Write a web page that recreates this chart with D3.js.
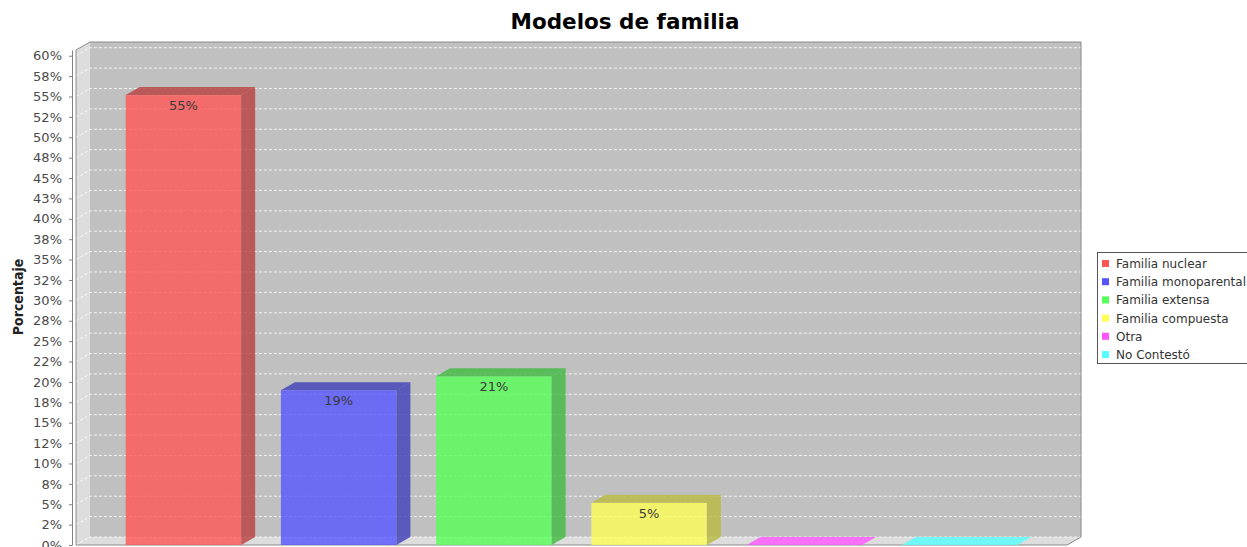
<!DOCTYPE html>
<html>
<head>
<meta charset="utf-8">
<script src="https://cdn.jsdelivr.net/npm/d3@7"></script>
<style>
  html, body { margin: 0; padding: 0; background: #fff; }
  svg { display: block; }
</style>
</head>
<body>
<svg id="chart"></svg>
<script>
const categories = ['Familia nuclear', 'Familia monoparental', 'Familia extensa', 'Familia compuesta', 'Otra', 'No Contestó'];
const values = [55.17, 18.97, 20.69, 5.17, 0, 0];
const barLabels = ['55%', '19%', '21%', '5%', '', ''];
const seriesColors = ['#ff5555', '#5555ff', '#55ff55', '#ffff55', '#ff55ff', '#55ffff'];
const tickValues = [0, 2.5, 5, 7.5, 10, 12.5, 15, 17.5, 20, 22.5, 25, 27.5, 30, 32.5, 35, 37.5, 40, 42.5, 45, 47.5, 50, 52.5, 55, 57.5, 60];
const tickLabels = ['0%', '2%', '5%', '8%', '10%', '12%', '15%', '18%', '20%', '22%', '25%', '28%', '30%', '32%', '35%', '38%', '40%', '43%', '45%', '48%', '50%', '52%', '55%', '58%', '60%'];

const width = 1247;
const height = 547;
const margin = { top: 50, right: 180, bottom: 2, left: 76 };
const dx = 14, dy = 8; // 3D depth offset

const svg = d3.select('#chart')
  .attr('width', width)
  .attr('height', height)
  .attr('viewBox', `0 0 ${width} ${height}`);

const pLeft = margin.left;
const pRight = width - margin.right;
const pTop = margin.top;
const pBase = height - margin.bottom;

const x = d3.scaleBand()
  .domain(categories)
  .range([pLeft, pRight])
  .paddingInner(0.256)
  .paddingOuter(0.32);

const y = d3.scaleLinear()
  .domain([0, 60.7])
  .range([pBase, pTop]);

const g = svg.append('g');

// Walls: left wall + floor light, back wall grey
g.append('polygon')
  .attr('points', [[pLeft, pTop], [pLeft + dx, pTop - dy], [pLeft + dx, pBase - dy], [pLeft, pBase]].join(' '))
  .attr('fill', '#dddddd');
g.append('polygon')
  .attr('points', [[pLeft, pBase], [pLeft + dx, pBase - dy], [pRight + dx, pBase - dy], [pRight, pBase]].join(' '))
  .attr('fill', '#dddddd');
g.append('rect')
  .attr('x', pLeft + dx)
  .attr('y', pTop - dy)
  .attr('width', pRight - pLeft)
  .attr('height', pBase - pTop)
  .attr('fill', '#c0c0c0');

// Gridlines across the left wall and back wall
g.selectAll('.grid')
  .data(tickValues)
  .join('polyline')
  .attr('class', 'grid')
  .attr('points', d => [[pLeft, y(d)], [pLeft + dx, y(d) - dy], [pRight + dx, y(d) - dy]].join(' '))
  .attr('fill', 'none')
  .attr('stroke', '#ffffff')
  .attr('stroke-opacity', 0.8)
  .attr('stroke-width', 1)
  .attr('stroke-dasharray', '3,2');

// Wall outline
g.append('polyline')
  .attr('points', [[pLeft, pBase], [pLeft, pTop], [pLeft + dx, pTop - dy], [pRight + dx, pTop - dy], [pRight + dx, pBase - dy], [pRight, pBase], [pLeft, pBase]].join(' '))
  .attr('fill', 'none')
  .attr('stroke', '#8a8a8a')
  .attr('stroke-width', 1);

// Bars
const bars = g.selectAll('.bar')
  .data(values)
  .join('g')
  .attr('class', 'bar');

bars.each(function (d, i) {
  const b = d3.select(this);
  const x0 = x(categories[i]);
  const x1 = x0 + x.bandwidth();
  const yt = y(d);
  const col = seriesColors[i];
  const dark = d3.color(col).darker(0.9).formatHex();

  if (d > 0) {
    b.append('rect')
      .attr('x', x0)
      .attr('y', yt)
      .attr('width', x1 - x0)
      .attr('height', pBase - yt)
      .attr('fill', col)
      .attr('fill-opacity', 0.8);
    b.append('polygon')
      .attr('points', [[x1, yt], [x1 + dx, yt - dy], [x1 + dx, pBase - dy], [x1, pBase]].join(' '))
      .attr('fill', dark)
      .attr('fill-opacity', 0.8);
  }
  b.append('polygon')
    .attr('points', [[x0, yt], [x0 + dx, yt - dy], [x1 + dx, yt - dy], [x1, yt]].join(' '))
    .attr('fill', d > 0 ? dark : col)
    .attr('fill-opacity', 0.8);

  if (barLabels[i]) {
    b.append('text')
      .attr('x', (x0 + x1) / 2)
      .attr('y', yt + 15)
      .attr('text-anchor', 'middle')
      .attr('font-family', 'DejaVu Sans, sans-serif')
      .attr('font-size', 13)
      .attr('fill', '#3a3a3a')
      .text(barLabels[i]);
  }
});

// Y axis
const axis = g.append('g')
  .attr('transform', `translate(${pLeft - 4},0)`)
  .call(d3.axisLeft(y)
    .tickValues(tickValues)
    .tickFormat((d, i) => tickLabels[i])
    .tickSizeInner(3)
    .tickSizeOuter(0)
    .tickPadding(7));
axis.select('.domain').attr('stroke', '#808080');
axis.selectAll('.tick line').attr('stroke', '#808080');
axis.selectAll('text')
  .attr('font-family', 'DejaVu Sans, sans-serif')
  .attr('font-size', 13)
  .attr('fill', '#4a4a4a');

// Axis label
g.append('text')
  .attr('transform', 'rotate(-90)')
  .attr('x', -297)
  .attr('y', 23)
  .attr('text-anchor', 'middle')
  .attr('font-family', 'DejaVu Sans Condensed, DejaVu Sans, sans-serif')
  .attr('font-weight', 'bold')
  .attr('font-size', 14)
  .attr('fill', '#222')
  .text('Porcentaje');

// Title
svg.append('text')
  .attr('x', 625)
  .attr('y', 29)
  .attr('text-anchor', 'middle')
  .attr('font-family', 'DejaVu Sans, sans-serif')
  .attr('font-weight', 'bold')
  .attr('font-size', 21.5)
  .attr('fill', '#000')
  .text('Modelos de familia');

// Legend
const legend = svg.append('g')
  .attr('transform', 'translate(1097,252)');
legend.append('rect')
  .attr('x', 0.5).attr('y', 0.5)
  .attr('width', 170).attr('height', 111)
  .attr('fill', '#fff')
  .attr('stroke', '#555');
categories.forEach((c, i) => {
  const lg = legend.append('g').attr('transform', `translate(5, ${11.5 + i * 18.2})`);
  lg.append('rect')
    .attr('x', 0).attr('y', -3.5)
    .attr('width', 7).attr('height', 7)
    .attr('fill', seriesColors[i]);
  lg.append('text')
    .attr('x', 14).attr('y', 4.5)
    .attr('font-family', 'DejaVu Sans, sans-serif')
    .attr('font-size', 12)
    .attr('fill', '#333')
    .text(c);
});
</script>
</body>
</html>
